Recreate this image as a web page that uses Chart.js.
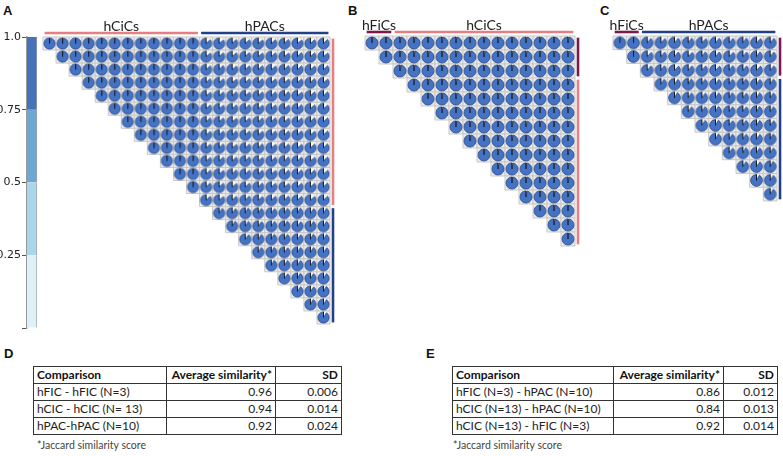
<!DOCTYPE html>
<html>
<head>
<meta charset="utf-8">
<script src="https://cdn.jsdelivr.net/npm/chart.js@4.4.1/dist/chart.umd.min.js"></script>
<style>
  body { margin: 0; background: #fff; width: 783px; height: 456px; position: relative; overflow: hidden; }
  canvas { position: absolute; }
  .letter { position: absolute; font: bold 13px "Liberation Sans", Arial, sans-serif; color: #111; }
  table.sim { position: absolute; border-collapse: collapse; font: 12px Lato, sans-serif; color: #222; table-layout: fixed; }
  table.sim td, table.sim th { height: 16px; line-height: 16px; padding: 0 3px; border: 1px solid #333; white-space: nowrap; text-align: right; overflow: hidden; }
  table.sim th { font-weight: bold; font-size: 12px; color: #111; }
  table.sim tr.data + tr.data td { border-top-color: #888; }
  table.sim .l { text-align: left; }
  .note { position: absolute; font: 10.5px Lato, sans-serif; color: #444; }
</style>
</head>
<body>
<div class="letter" style="left:3px;top:3px">A</div>
<div class="letter" style="left:348px;top:3px">B</div>
<div class="letter" style="left:600px;top:3px">C</div>
<div class="letter" style="left:4px;top:346px">D</div>
<div class="letter" style="left:426px;top:346px">E</div>

<canvas id="colorbar" width="45" height="315" style="left:0;top:25px"></canvas>
<canvas id="panelA" width="345" height="330" style="left:0;top:0"></canvas>
<canvas id="panelB" width="250" height="255" style="left:340px;top:0"></canvas>
<canvas id="panelC" width="188" height="210" style="left:595px;top:0"></canvas>

<table class="sim" id="tableD" style="left:33px;top:366px;width:308px">
  <colgroup><col style="width:133px"><col style="width:109px"><col style="width:66px"></colgroup>
</table>
<div class="note" style="left:37px;top:439px">*Jaccard similarity score</div>
<table class="sim" id="tableE" style="left:452px;top:366px;width:325px">
  <colgroup><col style="width:161px"><col style="width:110px"><col style="width:54px"></colgroup>
</table>
<div class="note" style="left:453px;top:439px">*Jaccard similarity score</div>

<script>
// colour scale at the left of panel A
const bandSizes = [0.25, 0.25, 0.25, 0.25];
const bandColors = ['#def1f9', '#a9d6ea', '#6da7d4', '#4473b9'];

const groupColors = { hFiCs: '#7b1a4b', hCiCs: '#e57f81', hPACs: '#22408a' };

// A: hCiCs (13) and hPACs (10), upper triangle without the diagonal
const panelAColGroups = [['hCiCs', 12], ['hPACs', 10]];
const panelARowGroups = [['hCiCs', 13], ['hPACs', 9]];
const panelARows = [
  [0.98,0.97,0.98,0.97,0.98,0.98,0.97,0.96,0.97,0.98,0.97,0.97,0.87,0.86,0.88,0.87,0.86,0.87,0.88,0.86,0.87,0.88],
  [0.98,0.97,0.97,0.98,0.97,0.97,0.98,0.97,0.96,0.97,0.98,0.86,0.87,0.87,0.88,0.86,0.87,0.86,0.88,0.87,0.86],
  [0.97,0.98,0.97,0.97,0.98,0.97,0.97,0.98,0.97,0.97,0.87,0.88,0.86,0.87,0.87,0.86,0.88,0.87,0.86,0.87],
  [0.98,0.97,0.97,0.98,0.97,0.96,0.97,0.98,0.97,0.88,0.87,0.86,0.87,0.88,0.87,0.86,0.87,0.88,0.86],
  [0.97,0.98,0.97,0.97,0.98,0.97,0.97,0.98,0.86,0.87,0.88,0.86,0.87,0.87,0.88,0.86,0.87,0.87],
  [0.98,0.97,0.98,0.97,0.97,0.98,0.97,0.87,0.86,0.87,0.88,0.86,0.87,0.86,0.88,0.87,0.86],
  [0.97,0.97,0.98,0.97,0.98,0.97,0.88,0.87,0.86,0.87,0.87,0.88,0.86,0.87,0.88,0.87],
  [0.98,0.97,0.97,0.98,0.97,0.86,0.87,0.88,0.87,0.86,0.87,0.87,0.88,0.86,0.87],
  [0.97,0.98,0.97,0.97,0.87,0.88,0.86,0.87,0.88,0.86,0.87,0.86,0.87,0.88],
  [0.98,0.97,0.98,0.86,0.87,0.87,0.88,0.86,0.87,0.88,0.87,0.86,0.87],
  [0.97,0.98,0.87,0.86,0.88,0.87,0.87,0.86,0.87,0.88,0.87,0.86],
  [0.98,0.88,0.87,0.86,0.87,0.88,0.87,0.86,0.87,0.87,0.88],
  [0.87,0.86,0.87,0.88,0.86,0.87,0.88,0.87,0.86,0.87],
  [0.91,0.90,0.92,0.91,0.90,0.91,0.92,0.90,0.91],
  [0.92,0.91,0.90,0.91,0.92,0.90,0.91,0.91],
  [0.90,0.91,0.92,0.91,0.90,0.92,0.91],
  [0.91,0.92,0.90,0.91,0.91,0.90],
  [0.92,0.91,0.91,0.90,0.92],
  [0.90,0.92,0.91,0.91],
  [0.91,0.90,0.92],
  [0.92,0.91],
  [0.91]
];

// B: hFiCs (3) and hCiCs (13)
const panelBColGroups = [['hFiCs', 2], ['hCiCs', 13]];
const panelBRowGroups = [['hFiCs', 3], ['hCiCs', 12]];
const panelBRows = [
  [0.99,0.99,0.97,0.97,0.98,0.97,0.97,0.98,0.97,0.97,0.98,0.97,0.97,0.98,0.97],
  [0.99,0.98,0.97,0.97,0.98,0.97,0.97,0.97,0.98,0.97,0.97,0.98,0.97,0.97],
  [0.97,0.97,0.98,0.97,0.97,0.98,0.97,0.97,0.97,0.98,0.97,0.97,0.98],
  [0.98,0.97,0.98,0.97,0.97,0.98,0.97,0.96,0.97,0.98,0.97,0.97],
  [0.98,0.97,0.97,0.98,0.97,0.97,0.98,0.97,0.96,0.97,0.98],
  [0.97,0.98,0.97,0.97,0.98,0.97,0.97,0.98,0.97,0.97],
  [0.98,0.97,0.97,0.98,0.97,0.96,0.97,0.98,0.97],
  [0.97,0.98,0.97,0.97,0.98,0.97,0.97,0.98],
  [0.98,0.97,0.98,0.97,0.97,0.98,0.97],
  [0.97,0.97,0.98,0.97,0.98,0.97],
  [0.98,0.97,0.97,0.98,0.97],
  [0.97,0.98,0.97,0.97],
  [0.98,0.97,0.98],
  [0.97,0.98],
  [0.98]
];

// C: hFiCs (3) and hPACs (10)
const panelCColGroups = [['hFiCs', 2], ['hPACs', 10]];
const panelCRowGroups = [['hFiCs', 3], ['hPACs', 9]];
const panelCRows = [
  [0.99,0.99,0.89,0.88,0.89,0.90,0.88,0.89,0.89,0.90,0.88,0.89],
  [0.99,0.88,0.89,0.89,0.88,0.90,0.89,0.88,0.89,0.90,0.89],
  [0.89,0.90,0.88,0.89,0.89,0.88,0.90,0.89,0.88,0.89],
  [0.91,0.90,0.92,0.91,0.90,0.91,0.92,0.90,0.91],
  [0.92,0.91,0.90,0.91,0.92,0.90,0.91,0.91],
  [0.90,0.91,0.92,0.91,0.90,0.92,0.91],
  [0.91,0.92,0.90,0.91,0.91,0.90],
  [0.92,0.91,0.91,0.90,0.92],
  [0.90,0.92,0.91,0.91],
  [0.91,0.90,0.92],
  [0.92,0.91],
  [0.91]
];

// tables D and E
const tableHeader = ['Comparison', 'Average similarity*', 'SD'];
const tableDRows = [
  ['hFIC - hFIC (N=3)', '0.96', '0.006'],
  ['hCIC - hCIC (N= 13)', '0.94', '0.014'],
  ['hPAC-hPAC (N=10)', '0.92', '0.024']
];
const tableERows = [
  ['hFIC (N=3) - hPAC (N=10)', '0.86', '0.012'],
  ['hCIC (N=13) - hPAC (N=10)', '0.84', '0.013'],
  ['hCIC (N=13) - hFIC (N=3)', '0.92', '0.014']
];

function fillTable(id, rows) {
  const t = document.getElementById(id);
  let html = '<tr>' + tableHeader.map((h, i) => `<th class="${i == 0 ? 'l' : ''}">${h}</th>`).join('') + '</tr>';
  rows.forEach(r => {
    html += '<tr class="data">' + r.map((c, i) => `<td class="${i == 0 ? 'l' : ''}">${c}</td>`).join('') + '</tr>';
  });
  t.insertAdjacentHTML('beforeend', html);
}
fillTable('tableD', tableDRows);
fillTable('tableE', tableERows);

new Chart(document.getElementById('colorbar'), {
  type: 'bar',
  data: {
    labels: [''],
    datasets: bandSizes.map((s, i) => ({
      data: [s],
      backgroundColor: bandColors[i],
      borderColor: '#a0a0a0',
      borderWidth: { right: 1, left: 0, top: 0, bottom: 0 },
      borderSkipped: false,
      barPercentage: 1,
      categoryPercentage: 1
    }))
  },
  options: {
    responsive: false,
    animation: false,
    events: [],
    layout: { padding: { top: 12, bottom: 12, right: 8, left: 0 } },
    plugins: { legend: { display: false }, tooltip: { enabled: false } },
    scales: {
      x: { display: false, stacked: true },
      y: {
        stacked: true, min: 0, max: 1,
        afterFit(scale) { scale.width = 27; },
        ticks: {
          stepSize: 0.25, padding: 1, color: '#222',
          font: { family: 'DejaVu Sans', size: 11 },
          callback: v => v == 0 ? '' : (v == 1 ? '1.0' : String(v))
        },
        grid: { drawOnChartArea: false, tickLength: 5, color: '#555' },
        border: { color: '#999', width: 1.5 }
      }
    }
  }
});

// little pie used as point style: filled part = similarity
const pieCache = {};
function pieImage(v, r) {
  const key = v + '_' + r.toFixed(2);
  if (pieCache[key]) return pieCache[key];
  const c = document.createElement('canvas');
  const s = Math.ceil(r * 2 + 3);
  c.width = c.height = s;
  const g = c.getContext('2d');
  const cx = s / 2, cy = s / 2;
  const a0 = -Math.PI / 2;
  const a1 = a0 + (1 - v) * 2 * Math.PI;
  g.fillStyle = '#f6f8fc';
  g.beginPath(); g.arc(cx, cy, r, 0, 2 * Math.PI); g.fill();
  g.fillStyle = '#4472c4';
  g.strokeStyle = '#2c4a82';
  g.lineWidth = 0.8;
  g.beginPath(); g.moveTo(cx, cy); g.arc(cx, cy, r, a1, a0 + 2 * Math.PI); g.closePath(); g.fill(); g.stroke();
  g.strokeStyle = '#111';
  g.lineWidth = 0.9;
  g.beginPath(); g.moveTo(cx, cy); g.lineTo(cx, cy - r); g.stroke();
  pieCache[key] = c;
  return c;
}

function cellPx(chart) {
  const x = chart.scales.x;
  return Math.abs(x.getPixelForValue(1) - x.getPixelForValue(0));
}

const groupBars = {
  id: 'groupBars',
  afterDraw(chart, args, opts) {
    const { ctx, scales: { x, y } } = chart;
    const n = opts.n;
    ctx.save();
    ctx.lineWidth = 2.6;
    ctx.font = '14px Lato';
    ctx.textAlign = 'center';
    ctx.textBaseline = 'alphabetic';
    const top = y.getPixelForValue(-0.5) - 4;
    let start = 0;
    opts.cols.forEach(([name, k]) => {
      const x0 = x.getPixelForValue(start - 0.38), x1 = x.getPixelForValue(start + k - 1 + 0.38);
      ctx.strokeStyle = groupColors[name];
      ctx.beginPath(); ctx.moveTo(x0, top); ctx.lineTo(x1, top); ctx.stroke();
      ctx.fillStyle = '#222';
      ctx.fillText(name, (x0 + x1) / 2, top - 2.5);
      start += k;
    });
    const right = x.getPixelForValue(n - 0.5) + 3;
    start = 0;
    opts.rows.forEach(([name, k]) => {
      const y0 = y.getPixelForValue(start - 0.38), y1 = y.getPixelForValue(start + k - 1 + 0.38);
      ctx.strokeStyle = groupColors[name];
      ctx.beginPath(); ctx.moveTo(right, y0); ctx.lineTo(right, y1); ctx.stroke();
      start += k;
    });
    ctx.restore();
  }
};

function matrixChart(id, rows, colGroups, rowGroups, pad) {
  const n = rows[0].length;
  const pts = [];
  rows.forEach((row, r) => row.forEach((v, k) => pts.push({ x: r + k, y: r, v: v })));
  new Chart(document.getElementById(id), {
    type: 'scatter',
    data: {
      datasets: [
        {
          data: pts,
          pointRadius: 5,
          pointStyle: ctx => pieImage(ctx.raw.v, cellPx(ctx.chart) * 0.43),
          clip: false
        },
        {
          data: pts,
          pointStyle: 'rect',
          pointRadius: ctx => cellPx(ctx.chart) / Math.SQRT2,
          backgroundColor: '#ececec',
          borderColor: '#c8c8c8',
          borderWidth: 1,
          clip: false
        }
      ]
    },
    options: {
      responsive: false,
      animation: false,
      events: [],
      layout: { padding: pad },
      plugins: {
        legend: { display: false },
        tooltip: { enabled: false },
        groupBars: { cols: colGroups, rows: rowGroups, n: n }
      },
      scales: {
        x: { type: 'linear', min: -0.5, max: n - 0.5, display: false },
        y: { type: 'linear', min: -0.5, max: n - 0.5, reverse: true, display: false }
      }
    },
    plugins: [groupBars]
  });
}

matrixChart('panelA', panelARows, panelAColGroups, panelARowGroups, { left: 43, top: 37, right: 15, bottom: 6 });
matrixChart('panelB', panelBRows, panelBColGroups, panelBRowGroups, { left: 25, top: 36, right: 15, bottom: 9 });
matrixChart('panelC', panelCRows, panelCColGroups, panelCRowGroups, { left: 18, top: 36, right: 5, bottom: 9 });
</script>
</body>
</html>
